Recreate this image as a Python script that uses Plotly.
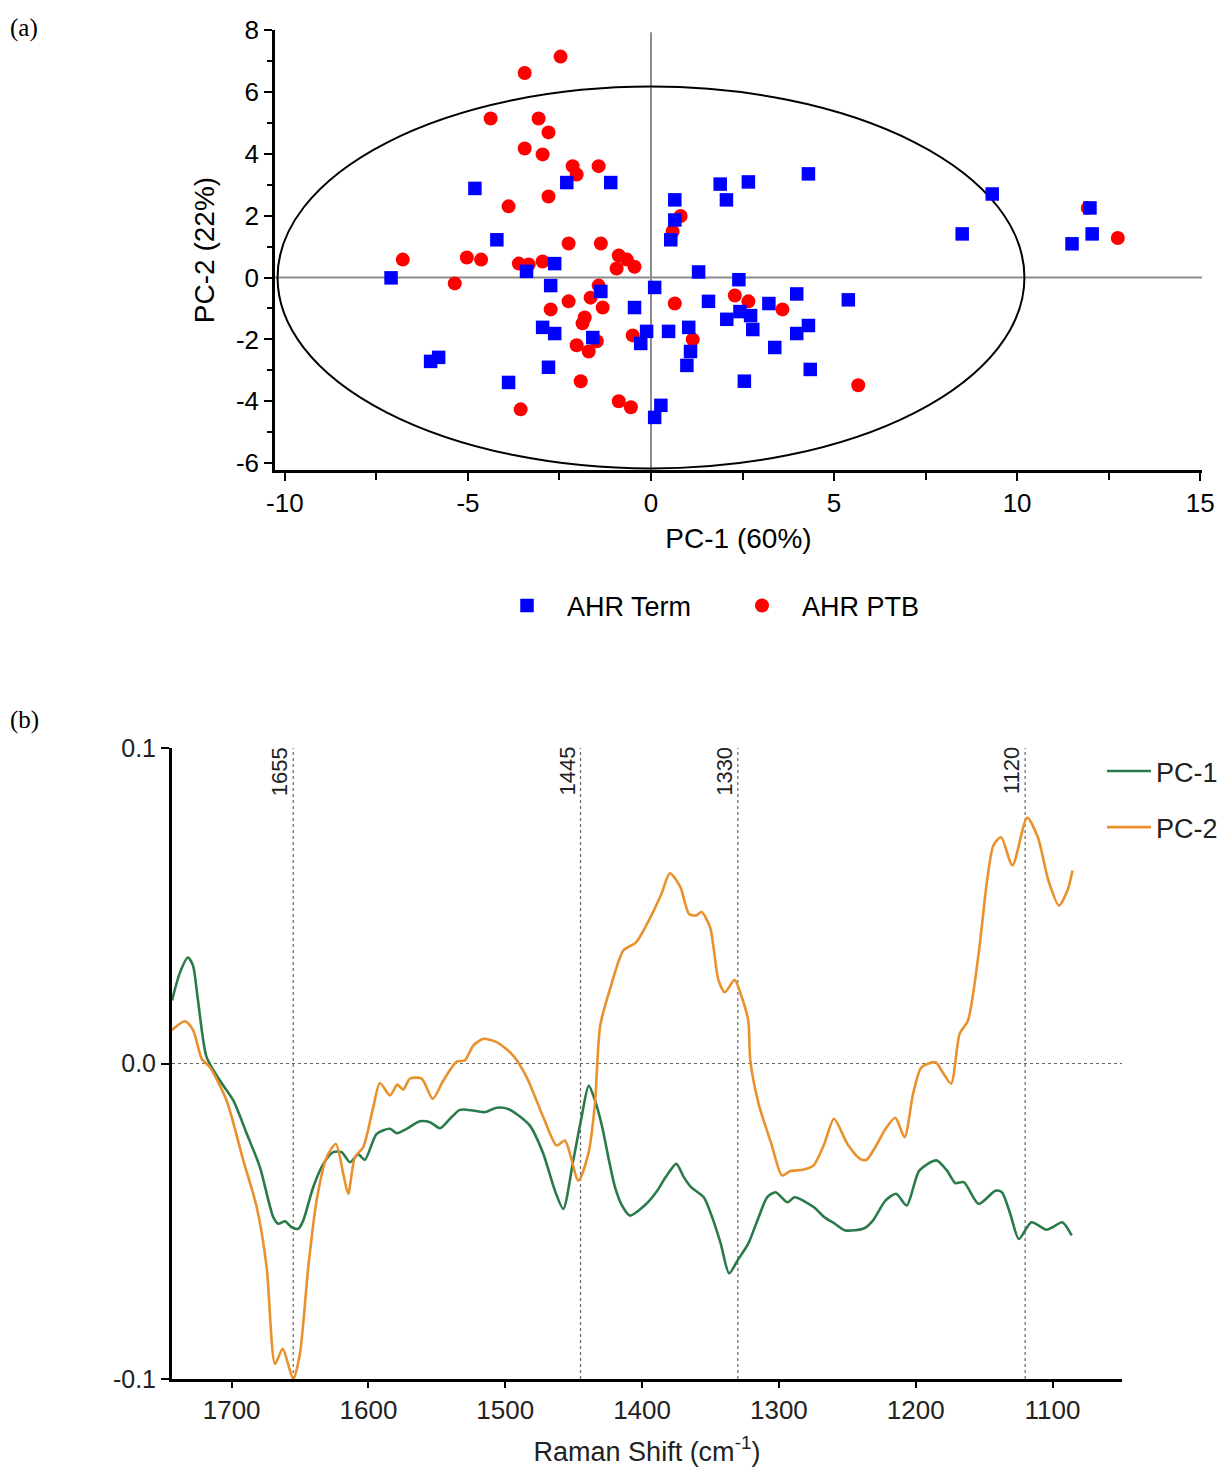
import plotly.graph_objects as go

# ---------------- (a) PCA scores ----------------
term_pc1 = [-7.10, -6.02, -5.80, -4.81, -4.21, -3.89, -3.40, -2.63, -2.74, -2.96,
            -2.63, -2.80, -2.30, -1.10, -1.37, -1.59, -0.45, -0.12, -0.28, 0.10,
            0.48, 1.03, 1.08, 0.98, 0.27, 0.10, 0.65, 0.65, 0.54, 1.30,
            1.57, 1.89, 2.06, 2.40, 2.43, 2.07, 2.66, 2.72, 2.78, 2.55,
            3.22, 3.38, 3.98, 3.98, 4.30, 4.35, 4.30, 5.39, 8.50, 9.32,
            11.50, 11.99, 12.05]
term_pc2 = [-0.01, -2.71, -2.58, 2.88, 1.22, -3.39, 0.20, 0.45, -0.26, -1.61,
            -1.81, -2.90, 3.07, 3.07, -0.45, -1.94, -0.97, -1.74, -2.13, -0.32,
            -1.74, -1.61, -2.39, -2.84, -4.13, -4.52, 2.51, 1.86, 1.22, 0.18,
            -0.77, 3.02, 2.51, -0.07, -1.10, -1.35, 3.09, -1.23, -1.68, -3.35,
            -0.84, -2.26, -0.53, -1.81, -1.55, -2.97, 3.35, -0.72, 1.41, 2.70,
            1.09, 2.25, 1.41]

ptb_pc1 = [-2.47, -3.45, -4.38, -3.07, -2.80, -3.45, -2.96, -2.14, -2.03, -1.43,
           -2.80, -3.89, -2.25, -1.37, -6.78, -5.03, -4.64, -3.61, -3.34, -2.96,
           -0.88, -0.66, -0.45, -0.94, -5.36, -1.43, -1.65, -2.25, -1.32, -2.74,
           -1.81, -1.87, -0.50, -1.48, -2.03, -1.70, -1.92, -3.56, -0.88, -0.55,
           0.81, 0.59, 0.65, 2.29, 2.66, 3.59, 1.14, 5.66, 11.93, 12.75]
ptb_pc2 = [7.14, 6.61, 5.14, 5.14, 4.69, 4.17, 3.98, 3.60, 3.33, 3.60,
           2.62, 2.30, 1.10, 1.10, 0.58, 0.65, 0.58, 0.45, 0.42, 0.52,
           0.71, 0.58, 0.35, 0.29, -0.19, -0.26, -0.65, -0.77, -0.97, -1.03,
           -1.29, -1.48, -1.87, -2.06, -2.19, -2.39, -3.35, -4.26, -4.00, -4.19,
           1.99, 1.49, -0.84, -0.58, -0.77, -1.03, -2.00, -3.48, 2.25, 1.28]

# confidence ellipse half-axes (PC-1, PC-2)
ellipse_a = 10.2
ellipse_b = 6.17

score_xticks = [-10, -5, 0, 5, 10, 15]
score_xlabels = ["-10", "-5", "0", "5", "10", "15"]
score_yticks = [-6, -4, -2, 0, 2, 4, 6, 8]
score_ylabels = ["-6", "-4", "-2", "0", "2", "4", "6", "8"]

# ---------------- (b) loadings ----------------
pc1_shift = [1743.6, 1737.8, 1732.0, 1728.3, 1724.6, 1718.3, 1708.6, 1698.8, 1689.0, 1679.3,
             1669.6, 1665.9, 1661.0, 1656.1, 1651.3, 1647.7, 1640.4, 1633.0, 1625.7, 1619.6,
             1613.5, 1607.5, 1602.6, 1594.0, 1584.3, 1579.4, 1572.1, 1562.4, 1555.0, 1547.7,
             1540.4, 1533.1, 1523.4, 1514.8, 1506.3, 1497.8, 1489.3, 1482.0, 1472.2, 1463.7,
             1457.6, 1450.3, 1444.7, 1439.0, 1434.4, 1429.1, 1424.2, 1419.8, 1414.7, 1409.0,
             1398.2, 1388.9, 1382.7, 1375.0, 1369.4, 1364.2, 1354.9, 1348.8, 1342.5, 1336.4,
             1330.2, 1322.4, 1314.8, 1308.6, 1302.4, 1293.7, 1288.5, 1274.6, 1266.8, 1259.1,
             1251.4, 1237.5, 1231.3, 1222.0, 1214.3, 1206.6, 1197.3, 1184.9, 1177.2, 1171.0,
             1164.8, 1154.0, 1141.7, 1137.0, 1130.9, 1124.6, 1115.4, 1104.5, 1099.9, 1092.8,
             1086.0]
pc1_load = [0.0200, 0.0288, 0.0336, 0.0311, 0.0200, 0.0020, -0.0054, -0.0117, -0.0222, -0.0329,
            -0.0487, -0.0508, -0.0500, -0.0519, -0.0524, -0.0498, -0.0392, -0.0318, -0.0281, -0.0281,
            -0.0313, -0.0288, -0.0305, -0.0223, -0.0207, -0.0221, -0.0207, -0.0183, -0.0186, -0.0205,
            -0.0175, -0.0147, -0.0149, -0.0154, -0.0140, -0.0144, -0.0168, -0.0197, -0.0286, -0.0403,
            -0.0461, -0.0307, -0.0181, -0.0070, -0.0117, -0.0202, -0.0307, -0.0392, -0.0450, -0.0482,
            -0.0450, -0.0403, -0.0360, -0.0318, -0.0361, -0.0392, -0.0424, -0.0487, -0.0571, -0.0665,
            -0.0624, -0.0571, -0.0487, -0.0424, -0.0408, -0.0440, -0.0424, -0.0455, -0.0487, -0.0508,
            -0.0529, -0.0522, -0.0498, -0.0434, -0.0413, -0.0450, -0.0339, -0.0307, -0.0339, -0.0379,
            -0.0376, -0.0445, -0.0403, -0.0408, -0.0476, -0.0556, -0.0503, -0.0527, -0.0519, -0.0503,
            -0.0545]

pc2_shift = [1743.9, 1734.1, 1728.1, 1721.9, 1715.9, 1703.7, 1691.5, 1681.7, 1674.4, 1668.3,
             1662.7, 1655.0, 1650.1, 1644.0, 1637.9, 1630.6, 1623.8, 1618.4, 1614.8, 1609.9,
             1603.8, 1596.5, 1591.6, 1584.3, 1578.9, 1574.6, 1569.7, 1561.1, 1553.1, 1545.3,
             1535.5, 1529.5, 1523.4, 1516.1, 1506.3, 1494.2, 1484.4, 1472.2, 1462.4, 1456.4,
             1446.6, 1439.3, 1434.5, 1430.6, 1423.0, 1413.7, 1404.4, 1395.1, 1385.8, 1379.7,
             1372.0, 1365.7, 1360.5, 1356.5, 1350.3, 1344.1, 1339.5, 1332.4, 1327.1, 1322.4,
             1320.9, 1314.8, 1305.5, 1297.7, 1291.6, 1282.3, 1274.6, 1266.8, 1259.7, 1249.9,
             1240.6, 1235.9, 1228.2, 1222.0, 1214.9, 1208.1, 1201.9, 1195.8, 1185.5, 1180.3,
             1174.1, 1167.9, 1161.8, 1154.0, 1147.8, 1143.2, 1137.6, 1129.3, 1118.5, 1110.7,
             1103.0, 1095.3, 1089.1, 1085.4]
pc2_load = [0.0105, 0.0134, 0.0105, 0.0015, -0.0012, -0.0117, -0.0307, -0.0455, -0.0646, -0.0952,
            -0.0904, -0.1000, -0.0920, -0.0646, -0.0434, -0.0297, -0.0255, -0.0350, -0.0413, -0.0297,
            -0.0265, -0.0139, -0.0062, -0.0101, -0.0067, -0.0083, -0.0048, -0.0048, -0.0112, -0.0054,
            0.0006, 0.0010, 0.0057, 0.0078, 0.0068, 0.0025, -0.0043, -0.0170, -0.0260, -0.0244,
            -0.0371, -0.0286, -0.0130, 0.0120, 0.0242, 0.0358, 0.0384, 0.0453, 0.0538, 0.0603,
            0.0559, 0.0474, 0.0469, 0.0480, 0.0432, 0.0263, 0.0226, 0.0265, 0.0210, 0.0136,
            0.0010, -0.0128, -0.0255, -0.0355, -0.0341, -0.0337, -0.0323, -0.0255, -0.0175, -0.0255,
            -0.0302, -0.0305, -0.0255, -0.0207, -0.0172, -0.0234, -0.0096, -0.0012, 0.0004, -0.0028,
            -0.0064, 0.0094, 0.0136, 0.0348, 0.0580, 0.0691, 0.0717, 0.0628, 0.0779, 0.0717,
            0.0580, 0.0501, 0.0548, 0.0612]

band_positions = [1655, 1445, 1330, 1120]

FONT = "Arial, 'Liberation Sans', sans-serif"
SERIF = "'Times New Roman', 'Liberation Serif', serif"
W, H = 1223, 1475

fig = go.Figure()

# scores
fig.add_trace(go.Scatter(
    x=ptb_pc1, y=ptb_pc2, mode="markers", name="AHR PTB",
    marker=dict(symbol="circle", size=14, color="#ff0000", line=dict(width=0)),
    xaxis="x", yaxis="y", legend="legend", legendrank=2))
fig.add_trace(go.Scatter(
    x=term_pc1, y=term_pc2, mode="markers", name="AHR Term",
    marker=dict(symbol="square", size=13.5, color="#0000ff", line=dict(width=0)),
    xaxis="x", yaxis="y", legend="legend", legendrank=1))

# loadings
fig.add_trace(go.Scatter(
    x=pc1_shift, y=pc1_load, mode="lines", name="PC-1",
    line=dict(color="#2b7a4b", width=2.6, shape="spline", smoothing=0.7),
    xaxis="x2", yaxis="y2", legend="legend2", legendgroup="pc1"))
fig.add_trace(go.Scatter(
    x=pc2_shift, y=pc2_load, mode="lines", name="PC-2",
    line=dict(color="#e8912d", width=2.6, shape="spline", smoothing=0.7),
    xaxis="x2", yaxis="y2", legend="legend2", legendgroup="pc2"))

shapes = []
# origin cross-hairs of the score plot
shapes.append(dict(type="line", xref="x", yref="y domain", x0=0, x1=0, y0=0, y1=0.995,
                   line=dict(color="#8c8c8c", width=2), layer="below"))
shapes.append(dict(type="line", xref="x domain", yref="y", x0=0, x1=1, y0=0, y1=0,
                   line=dict(color="#8c8c8c", width=2), layer="below"))
# confidence ellipse
shapes.append(dict(type="circle", xref="x", yref="y",
                   x0=-ellipse_a, x1=ellipse_a, y0=-ellipse_b, y1=ellipse_b,
                   line=dict(color="black", width=2), layer="below"))
# zero line of the loadings
shapes.append(dict(type="line", xref="x2 domain", yref="y2", x0=0, x1=1, y0=0, y1=0,
                   line=dict(color="#666666", width=1.2, dash="dot"), layer="below"))

annotations = []
for b in band_positions:
    shapes.append(dict(type="line", xref="x2", yref="y2", x0=b, x1=b, y0=-0.1, y1=0.1,
                       line=dict(color="#666666", width=1.2, dash="dot"), layer="below"))
    annotations.append(dict(text=str(b), xref="x2", yref="y2", x=b, y=0.1,
                            xanchor="right", yanchor="top", textangle=-90,
                            showarrow=False, xshift=1, yshift=3,
                            font=dict(family=FONT, size=22, color="#222222")))

annotations.append(dict(text="(a)", xref="paper", yref="paper", x=8 / W, y=1 - 12 / H,
                        xanchor="left", yanchor="top", showarrow=False,
                        font=dict(family=SERIF, size=25, color="black")))
annotations.append(dict(text="(b)", xref="paper", yref="paper", x=8 / W, y=1 - 704 / H,
                        xanchor="left", yanchor="top", showarrow=False,
                        font=dict(family=SERIF, size=25, color="black")))

axis_common = dict(showgrid=False, zeroline=False, showline=True, linecolor="black",
                   ticks="outside", tickcolor="black", mirror=False)

fig.update_layout(
    width=W, height=H,
    margin=dict(l=0, r=0, t=0, b=0, autoexpand=False),
    paper_bgcolor="white", plot_bgcolor="white",
    font=dict(family=FONT, color="black"),
    shapes=shapes, annotations=annotations,
    xaxis=dict(domain=[275 / W, 1202 / W], range=[-10.27, 15.05],
               tickvals=score_xticks, ticktext=score_xlabels,
               ticklen=8, tickwidth=2, linewidth=2.5,
               minor=dict(dtick=2.5, tick0=0, ticks="outside", ticklen=7, tickwidth=2,
                          tickcolor="black"),
               tickfont=dict(size=26), anchor="y",
               title=dict(text="PC-1 (60%)", font=dict(size=28), standoff=12),
               **axis_common),
    yaxis=dict(domain=[1 - 470 / H, 1 - 30 / H], range=[-6.22, 8.0],
               tickvals=score_yticks, ticktext=score_ylabels,
               ticklen=8, tickwidth=2, linewidth=2.5,
               minor=dict(dtick=1, tick0=0, ticks="outside", ticklen=5, tickwidth=2,
                          tickcolor="black"),
               tickfont=dict(size=26), anchor="x",
               title=dict(text="PC-2 (22%)", font=dict(size=28), standoff=14),
               **axis_common),
    xaxis2=dict(domain=[172 / W, 1122 / W], range=[1743.6, 1049.2],
                tickvals=[1700, 1600, 1500, 1400, 1300, 1200, 1100],
                ticklen=6, tickwidth=2, linewidth=3, anchor="y2",
                tickfont=dict(size=26, color="#222222"),
                title=dict(text="Raman Shift (cm<sup>-1</sup>)", font=dict(size=27, color="#222222"),
                           standoff=18),
                **axis_common),
    yaxis2=dict(domain=[1 - 1379 / H, 1 - 748 / H], range=[-0.1, 0.1],
                tickvals=[-0.1, 0.0, 0.1], ticktext=["-0.1", "0.0", "0.1"],
                ticklen=8, tickwidth=2, linewidth=3, anchor="x2",
                tickfont=dict(size=25, color="#222222"),
                **axis_common),
    legend=dict(orientation="h", x=722 / W, y=1 - 606 / H, xanchor="center", yanchor="middle",
                font=dict(size=27, color="black"), entrywidth=150, itemwidth=70,
                bgcolor="rgba(0,0,0,0)", itemsizing="trace"),
    legend2=dict(orientation="v", x=1102 / W, y=1 - 747 / H, xanchor="left", yanchor="top",
                 font=dict(size=27, color="#222222"), tracegroupgap=18, itemwidth=44,
                 bgcolor="rgba(0,0,0,0)"),
)

fig.write_html("out.html")
